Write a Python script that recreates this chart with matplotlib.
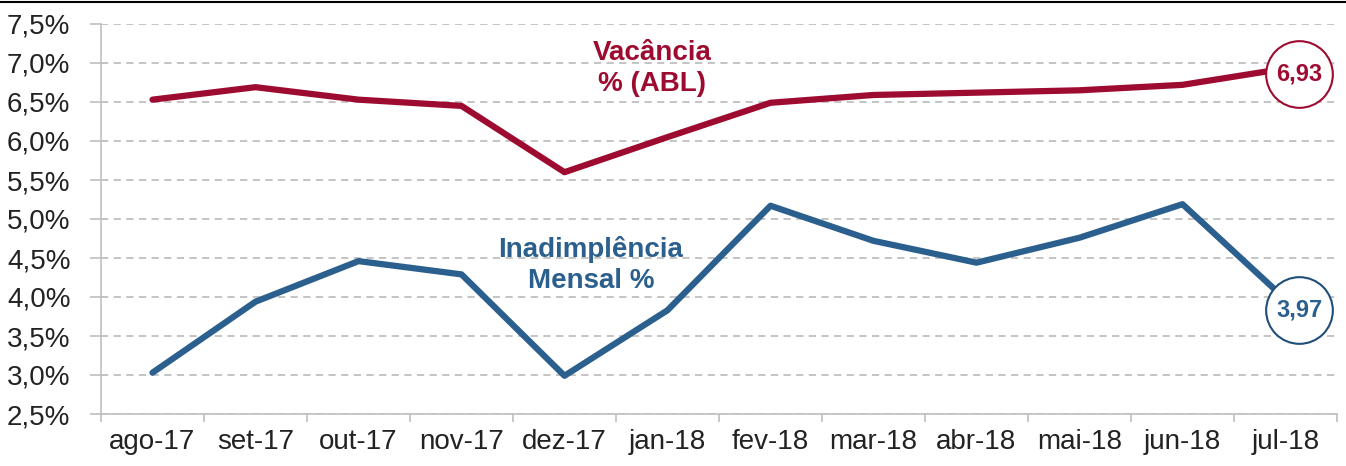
import matplotlib.pyplot as plt
import matplotlib.transforms as mtransforms
from matplotlib.lines import Line2D

meses = ['ago-17', 'set-17', 'out-17', 'nov-17', 'dez-17', 'jan-18',
         'fev-18', 'mar-18', 'abr-18', 'mai-18', 'jun-18', 'jul-18']
vacancia = [6.53, 6.69, 6.53, 6.45, 5.60, 6.05, 6.49, 6.59, 6.62, 6.65, 6.72, 6.93]
inadimplencia = [3.03, 3.94, 4.46, 4.29, 2.99, 3.83, 5.17, 4.72, 4.44, 4.76, 5.19, 3.97]
y_ticks = [2.5, 3.0, 3.5, 4.0, 4.5, 5.0, 5.5, 6.0, 6.5, 7.0, 7.5]

vermelho = '#9E0B30'
azul = '#2B5F8E'
azul_borda = '#1F4E79'

plt.rcParams['font.family'] = ['Liberation Sans', 'DejaVu Sans']

fig = plt.figure(figsize=(13.46, 4.66), dpi=100)
ax = fig.add_axes([101 / 1346, 52 / 466, 1236 / 1346, 390 / 466])

x = list(range(len(meses)))
ax.plot(x, vacancia, color=vermelho, lw=4.5, solid_capstyle='round', zorder=3)
ax.plot(x, inadimplencia, color=azul, lw=4.5, solid_capstyle='round', zorder=3)

# circles with the last value
for serie, cor, borda, dy in [(vacancia, vermelho, vermelho, -6), (inadimplencia, azul, azul_borda, -11)]:
    off = mtransforms.offset_copy(ax.transData, fig=fig, x=14, y=dy, units='dots')
    ax.plot(x[-1], serie[-1], 'o', ms=48, mfc='white', mec=borda, mew=1.5,
            transform=off, zorder=4, clip_on=False)
    ax.text(x[-1], serie[-1], ('%.2f' % serie[-1]).replace('.', ','), transform=off,
            ha='center', va='center', fontsize=17, fontweight='bold', color=cor, zorder=5)

ax.text(652 / 1346, 1 - 68 / 466, 'Vacância\n% (ABL)', transform=fig.transFigure, ha='center', va='center',
        fontsize=20, fontweight='bold', color=vermelho, linespacing=1.25)
ax.text(591 / 1346, 1 - 265 / 466, 'Inadimplência\nMensal %', transform=fig.transFigure, ha='center', va='center',
        fontsize=20, fontweight='bold', color=azul, linespacing=1.25)

ax.set_xlim(-0.5, len(meses) - 0.5)
ax.set_ylim(2.5, 7.5)
ax.set_xticks(x)
ax.set_xticklabels(meses)
ax.set_xticks([i - 0.5 for i in range(len(meses) + 1)], minor=True)
ax.set_yticks(y_ticks)
ax.set_yticklabels([('%.1f%%' % v).replace('.', ',') for v in y_ticks])

ax.tick_params(axis='x', which='major', length=0, pad=11, labelsize=20, labelcolor='#222222')
ax.tick_params(axis='x', which='minor', length=6, width=1.2, color='#BFBFBF')
ax.tick_params(axis='y', length=8, width=1.2, color='#BFBFBF', pad=14, labelsize=20, labelcolor='#222222')

ax.grid(axis='y', color='#BFBFBF', ls=(0, (4, 3)), lw=1.3)
for s in ['top', 'right']:
    ax.spines[s].set_visible(False)
for s in ['left', 'bottom']:
    ax.spines[s].set_color('#BFBFBF')
    ax.spines[s].set_linewidth(1.2)

fig.add_artist(Line2D([0, 1], [1 - 2 / 466, 1 - 2 / 466], color='black', lw=1.5, transform=fig.transFigure))

fig.savefig('out.png', dpi=100)
